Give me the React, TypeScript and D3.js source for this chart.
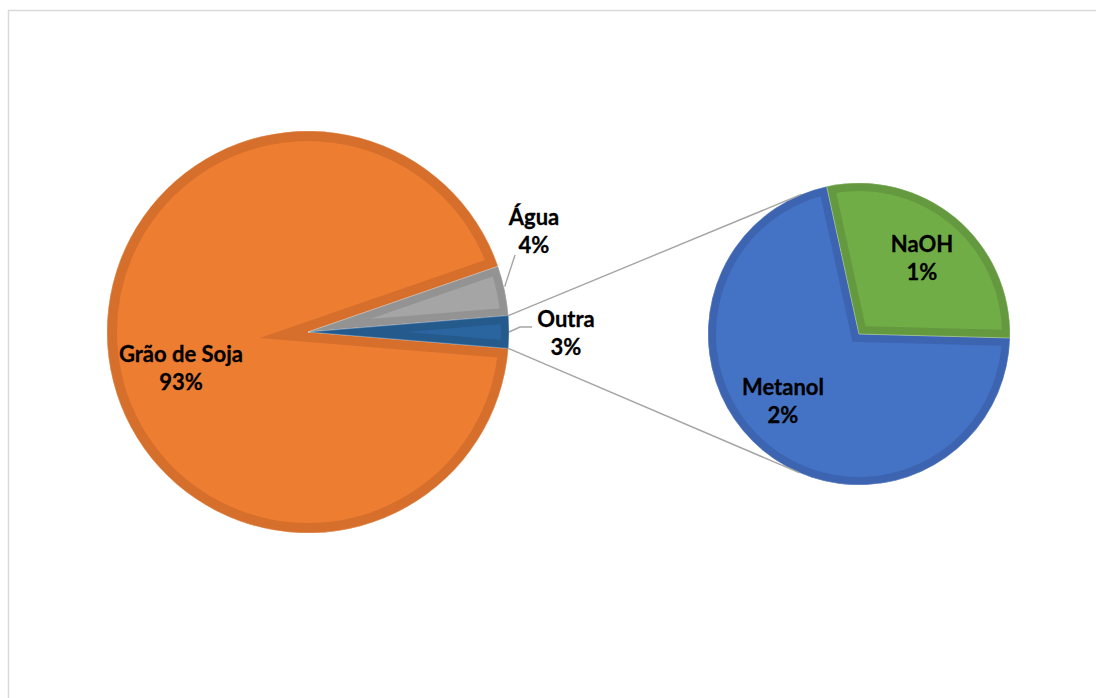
import React from "react";
import * as d3 from "d3";

// ---- data ----
const mainCategories = ["Grão de Soja", "Água", "Outra"];
const mainValues = [93.4, 4.0, 2.6];
const mainLabels = ["93%", "4%", "3%"];
const subCategories = ["Metanol", "NaOH"];
const subValues = [1.85, 0.75];
const subLabels = ["2%", "1%"];

// ---- style / layout ----
const mainFill = ["#ED7D31", "#A5A5A5", "#2B65A0"];
const mainBand = ["#D56F2B", "#939393", "#245A8C"];
const subFill = ["#4472C4", "#70AD47"];
const subBand = ["#3C64B0", "#64993F"];

const W = 1096;
const H = 698;
const main = { cx: 308, cy: 332, r: 201 };
const sub = { cx: 859, cy: 334, r: 151 };
const BAND = 8;
const FONT = "Lato, 'Open Sans', sans-serif";

// label placement (layout): [x center, first baseline]
const mainLabelPos: [number, number][] = [
  [181, 362],
  [534, 225],
  [566, 327],
];
const subLabelPos: [number, number][] = [
  [783, 395],
  [922, 252],
];

function arcPoint(c: { cx: number; cy: number }, r: number, a: number): [number, number] {
  return [c.cx + r * Math.sin(a), c.cy - r * Math.cos(a)];
}

function tangentPoints(p: [number, number], c: { cx: number; cy: number; r: number }) {
  const dx = p[0] - c.cx;
  const dy = p[1] - c.cy;
  const d = Math.hypot(dx, dy);
  const phi = Math.atan2(dy, dx);
  const t = Math.acos(c.r / d);
  return [phi + t, phi - t].map((a) => [c.cx + c.r * Math.cos(a), c.cy + c.r * Math.sin(a)] as [number, number]);
}

export default function App() {
  const total = d3.sum(mainValues);
  const outraAngle = (mainValues[2] / total) * Math.PI * 2;
  const start = Math.PI / 2 + outraAngle / 2;
  const mainPie = d3.pie<number>().sort(null).startAngle(start).endAngle(start + Math.PI * 2)(mainValues);

  const subStart = (91.5 * Math.PI) / 180;
  const subPie = d3.pie<number>().sort(null).startAngle(subStart).endAngle(subStart + Math.PI * 2)(subValues);

  const mainArc = d3.arc<d3.PieArcDatum<number>>().innerRadius(0).outerRadius(main.r);
  const subArc = d3.arc<d3.PieArcDatum<number>>().innerRadius(0).outerRadius(sub.r);

  const outra = mainPie[2];
  const pTop = arcPoint(main, main.r, outra.startAngle);
  const pBot = arcPoint(main, main.r, outra.endAngle);
  const tTop = tangentPoints(pTop, sub).sort((a, b) => a[1] - b[1])[0];
  const tBot = tangentPoints(pBot, sub).sort((a, b) => b[1] - a[1])[0];

  const agua = mainPie[1];
  const aguaMid = arcPoint(main, main.r, (agua.startAngle + agua.endAngle) / 2);
  const outraMid = arcPoint(main, main.r, (outra.startAngle + outra.endAngle) / 2);

  const slice = (
    key: string,
    d: string,
    cx: number,
    cy: number,
    fill: string,
    band: string,
    bandW: number
  ) => (
    <g key={key} transform={`translate(${cx},${cy})`}>
      <clipPath id={`clip-${key}`}>
        <path d={d} />
      </clipPath>
      <path d={d} fill={fill} />
      <path d={d} fill="none" stroke={band} strokeWidth={bandW * 2} strokeLinejoin="miter" strokeMiterlimit={20} clipPath={`url(#clip-${key})`} />
      <path d={d} fill="none" stroke="#ffffff" strokeOpacity={0.35} strokeWidth={0.8} />
    </g>
  );

  const label = (key: string, pos: [number, number], name: string, pct: string) => (
    <text key={key} x={pos[0]} y={pos[1]} textAnchor="middle" fontFamily={FONT} fontWeight={700} fontSize={22} fill="#000" stroke="#000" strokeWidth={0.3}>
      <tspan x={pos[0]}>{name}</tspan>
      <tspan x={pos[0]} dy={28}>{pct}</tspan>
    </text>
  );

  return (
    <svg width={W} height={H} style={{ position: "absolute", left: 0, top: 0, background: "#fff" }}>
      <rect x={8.5} y={10.5} width={W + 20} height={H + 20} fill="#fff" stroke="#D9D9D9" strokeWidth={1.5} />
      {mainPie.map((p, i) => slice(`m${i}`, mainArc(p) as string, main.cx, main.cy, mainFill[i], mainBand[i], i === 0 ? 10 : BAND))}
      {subPie.map((p, i) => slice(`s${i}`, subArc(p) as string, sub.cx, sub.cy, subFill[i], subBand[i], BAND))}
      <line x1={pTop[0]} y1={pTop[1]} x2={tTop[0]} y2={tTop[1]} stroke="#A5A5A5" strokeWidth={1.4} />
      <line x1={pBot[0]} y1={pBot[1]} x2={tBot[0]} y2={tBot[1]} stroke="#A5A5A5" strokeWidth={1.4} />
      <polyline points={`${aguaMid[0]},${aguaMid[1] - 4} ${mainLabelPos[1][0] - 19},${mainLabelPos[1][1] + 30}`} fill="none" stroke="#A5A5A5" strokeWidth={1.4} />
      <polyline
        points={`${outraMid[0]},${outraMid[1]} ${outraMid[0] + 11},${mainLabelPos[2][1]} ${mainLabelPos[2][0] - 34},${mainLabelPos[2][1]}`}
        fill="none"
        stroke="#A5A5A5"
        strokeWidth={1.4}
      />
      {mainCategories.map((c, i) => label(`lm${i}`, mainLabelPos[i], c, mainLabels[i]))}
      {subCategories.map((c, i) => label(`ls${i}`, subLabelPos[i], c, subLabels[i]))}
    </svg>
  );
}
